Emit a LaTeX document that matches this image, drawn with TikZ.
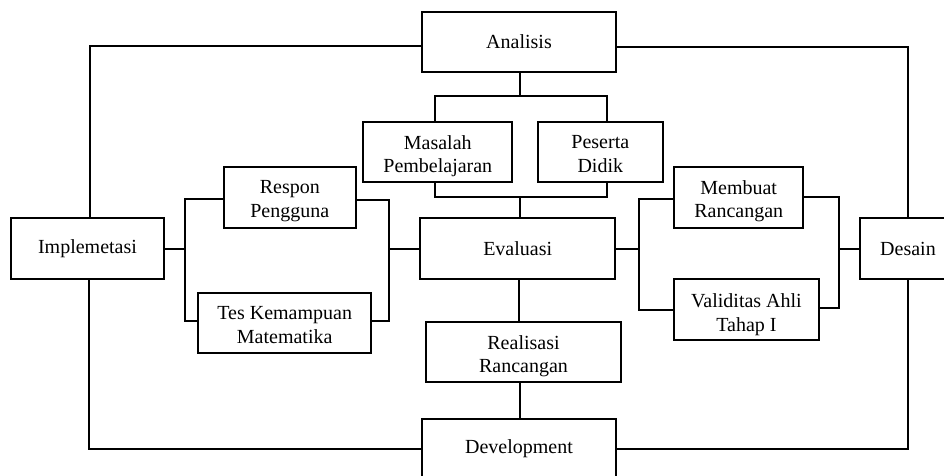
\documentclass[tikz,border=0pt]{standalone}
\usepackage{fontspec}
\setmainfont{Liberation Serif}
\tikzset{
  box/.style={draw, line width=2pt, rectangle, inner sep=0pt, minimum height=60.4pt,
    font=\fontsize{20}{23.3}\selectfont},
  txt/.style={inner sep=0pt, align=center, anchor=north, font=\fontsize{20}{23.3}\selectfont},
  conn/.style={line width=2pt, line join=miter}
}
\begin{document}
\begin{tikzpicture}[x=1pt,y=-1pt]
\clip (0,0) rectangle (944,476);
\fill[white] (0,0) rectangle (944,476);
% main boxes
\node[box, minimum width=194.6pt, minimum height=59.4pt] (ana) at (519,42) {Analisis};
\node[box, minimum width=153.6pt] (imp) at (87.5,248.5) {Implemetasi};
\node[box, minimum width=195.3pt] (eva) at (517.7,248.5) {Evaluasi};
\node[box, minimum width=95.4pt] (des) at (908,248.5) {Desain};
\node[box, minimum width=194.6pt, minimum height=60.6pt] (dev) at (519,449) {Development};
% two-line boxes
\node[box, minimum width=149pt, minimum height=60pt] (mas) at (437.8,151.7) {};
\node[txt] (masT) at ([yshift=-14.5pt]mas.north) {Masalah\\Pembelajaran};
\node[box, minimum width=124.7pt, minimum height=60.6pt] (pes) at (600.3,152) {};
\node[txt] (pesT) at ([yshift=-15pt]pes.north) {Peserta\\Didik};
\node[box, minimum width=131.7pt, minimum height=61pt] (res) at (289.8,197.2) {};
\node[txt] (resT) at ([yshift=-15pt]res.north) {Respon\\Pengguna};
\node[box, minimum width=172.7pt, minimum height=60.6pt] (tes) at (284.7,323) {};
\node[txt] (tesT) at ([yshift=-15pt]tes.north) {Tes Kemampuan\\Matematika};
\node[box, minimum width=128.7pt, minimum height=61pt] (mem) at (738.7,197.2) {};
\node[txt] (memT) at ([yshift=-14.5pt]mem.north) {Membuat\\Rancangan};
\node[box, minimum width=144.4pt, minimum height=61pt] (val) at (746.5,309.8) {};
\node[txt] (valT) at ([yshift=-15.5pt]val.north) {Validitas Ahli\\Tahap I};
\node[box, minimum width=195pt, minimum height=60pt] (rea) at (523.5,352) {};
\node[txt] (reaT) at ([yshift=-14pt]rea.north) {Realisasi\\Rancangan};
% helper coordinates
\coordinate (tL) at (435,96.5);
\coordinate (tR) at (607,96.5);
\coordinate (bL) at (435,196.7);
\coordinate (bR) at (607,196.7);
\coordinate (cx) at (520.3,0);
\coordinate (lb) at (185.3,0);
\coordinate (rb) at (389,0);
\coordinate (lb2) at (638.7,0);
\coordinate (rb2) at (838.7,0);
\coordinate (tesL) at ([yshift=2pt]tes.west);
\coordinate (tesR) at ([yshift=2pt]tes.east);
\coordinate (valR) at ([yshift=1.5pt]val.east);
% outer loop
\draw[conn] ([yshift=-4pt]ana.west) -| ([xshift=2.5pt]imp.north);
\draw[conn] ([yshift=-5pt]ana.east) -| (des.north);
\draw[conn] ([xshift=1.8pt]imp.south) |- (dev.west);
\draw[conn] (des.south) |- (dev.east);
% analysis tree
\draw[conn] (cx |- ana.south) -- (cx |- tL);
\draw[conn] (tL |- mas.north) -- (tL) -- (tR) -- (tR |- pes.north);
\draw[conn] (bL |- mas.south) -- (bL) -- (bR) -- (bR |- pes.south);
\draw[conn] (cx |- bL) -- (cx |- eva.north);
% left bracket
\draw[conn] ([yshift=-1.8pt]res.west) -| (lb |- tesL) -- (tesL);
\draw[conn] (imp.east) -- (imp.east -| lb);
\draw[conn] ([yshift=-2.5pt]res.east) -| (rb |- tesR) -- (tesR);
\draw[conn] (eva.west -| rb) -- (eva.west);
% right bracket
\draw[conn] ([yshift=-1.8pt]mem.west) -| (lb2 |- val.west) -- (val.west);
\draw[conn] (eva.east) -- (eva.east -| lb2);
\draw[conn] (mem.east) -| (rb2 |- valR) -- (valR);
\draw[conn] (des.west -| rb2) -- (des.west);
% vertical chain
\draw[conn] ([xshift=1pt]eva.south) -- ([xshift=1pt]eva.south |- rea.north);
\draw[conn] (cx |- rea.south) -- (cx |- dev.north);
\end{tikzpicture}
\end{document}
